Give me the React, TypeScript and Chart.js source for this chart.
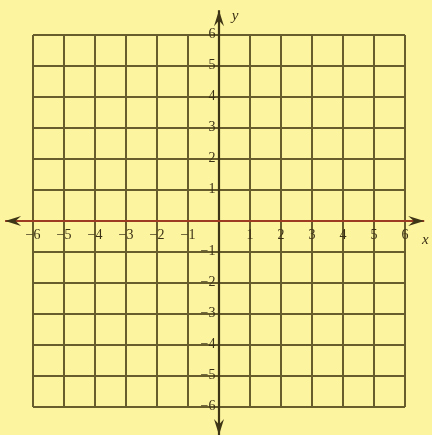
import React, { useEffect, useRef } from "react";
import { Chart, registerables } from "chart.js";

Chart.register(...registerables);

const X_RANGE = [-6, 6];
const Y_RANGE = [-6, 6];
const STEP = 1;
// horizontal (x) axis line, drawn as a series, extends past the grid
const xAxisLineX = [-6.9, 6.62];
const xAxisLineY = [0, 0];
// vertical (y) axis line
const yAxisLineX = [0, 0];
const yAxisLineY = [-6.9, 6.8];
const xTitle = "x";
const yTitle = "y";

const BG = "#FCF49E";
const GRID = "#665c2c";
const AXIS = "#3e3517";
const RED = "#9c3b22";
const LABEL = "#3a3016";
const FONT = "'Liberation Serif', 'DejaVu Serif', serif";

const fmt = (v: number) => (v === 0 ? "" : v < 0 ? "\u2212" + -v : String(v));

const arrowPlugin = {
  id: "arrows",
  afterDatasetsDraw(chart: any) {
    const { ctx, scales } = chart;
    const xs = scales.x;
    const ys = scales.y;
    const x0 = xs.getPixelForValue(0);
    const y0 = ys.getPixelForValue(0);
    const head = (tx: number, ty: number, dx: number, dy: number) => {
      const len = 16;
      const half = 5;
      const bx = tx - dx * len;
      const by = ty - dy * len;
      const px = -dy;
      const py = dx;
      ctx.beginPath();
      ctx.moveTo(tx, ty);
      ctx.lineTo(bx + px * half, by + py * half);
      ctx.lineTo(tx - dx * len * 0.65, ty - dy * len * 0.65);
      ctx.lineTo(bx - px * half, by - py * half);
      ctx.closePath();
      ctx.fill();
    };
    ctx.save();
    ctx.fillStyle = AXIS;
    head(xs.getPixelForValue(xAxisLineX[0]), y0, -1, 0);
    head(xs.getPixelForValue(xAxisLineX[1]), y0, 1, 0);
    head(x0, ys.getPixelForValue(yAxisLineY[1]), 0, -1);
    head(x0, ys.getPixelForValue(yAxisLineY[0]), 0, 1);
    ctx.fillStyle = LABEL;
    ctx.font = `italic 15px ${FONT}`;
    ctx.textAlign = "center";
    ctx.textBaseline = "middle";
    ctx.fillText(xTitle, xs.getPixelForValue(xAxisLineX[1]) + 1, y0 + 19);
    ctx.fillText(yTitle, x0 + 16, ys.getPixelForValue(yAxisLineY[1]) + 6);
    ctx.restore();
  },
};

export default function App() {
  const ref = useRef<HTMLCanvasElement | null>(null);
  useEffect(() => {
    if (!ref.current) return;
    const chart = new Chart(ref.current, {
      type: "scatter",
      data: {
        datasets: [
          {
            data: xAxisLineX.map((x, i) => ({ x, y: xAxisLineY[i] })),
            showLine: true,
            borderColor: RED,
            borderWidth: 2.2,
            pointRadius: 0,
            clip: false as any,
          },
          {
            data: yAxisLineX.map((x, i) => ({ x, y: yAxisLineY[i] })),
            showLine: true,
            borderColor: AXIS,
            borderWidth: 2.2,
            pointRadius: 0,
            clip: false as any,
          },
        ],
      },
      options: {
        animation: false,
        responsive: false,
        devicePixelRatio: 1,
        layout: { padding: { left: 33, right: 27, top: 35, bottom: 28 } },
        plugins: { legend: { display: false }, tooltip: { enabled: false } },
        scales: {
          x: {
            type: "linear",
            min: X_RANGE[0],
            max: X_RANGE[1],
            position: { y: 0 } as any,
            border: { display: false },
            grid: {
              drawTicks: false,
              color: (c: any) => (c.tick && c.tick.value === 0 ? "rgba(0,0,0,0)" : GRID),
              lineWidth: 2,
            },
            ticks: {
              stepSize: STEP,
              autoSkip: false,
              maxRotation: 0,
              padding: 6,
              color: LABEL,
              font: { family: FONT, size: 14 },
              callback: (v: any) => fmt(Number(v)),
            },
          },
          y: {
            type: "linear",
            min: Y_RANGE[0],
            max: Y_RANGE[1],
            position: { x: 0 } as any,
            border: { display: false },
            grid: {
              drawTicks: false,
              color: (c: any) => (c.tick && c.tick.value === 0 ? "rgba(0,0,0,0)" : GRID),
              lineWidth: 2,
            },
            ticks: {
              stepSize: STEP,
              autoSkip: false,
              padding: 8,
              labelOffset: -1,
              color: LABEL,
              font: { family: FONT, size: 14 },
              callback: (v: any) => (Number(v) === 0 ? "" : fmt(Number(v)) + " "),
            },
          },
        },
      },
      plugins: [arrowPlugin],
    });
    return () => chart.destroy();
  }, []);
  return (
    <div style={{ position: "absolute", left: 0, top: 0, width: 432, height: 435, background: BG }}>
      <canvas ref={ref} width={432} height={435} style={{ display: "block" }} />
    </div>
  );
}
